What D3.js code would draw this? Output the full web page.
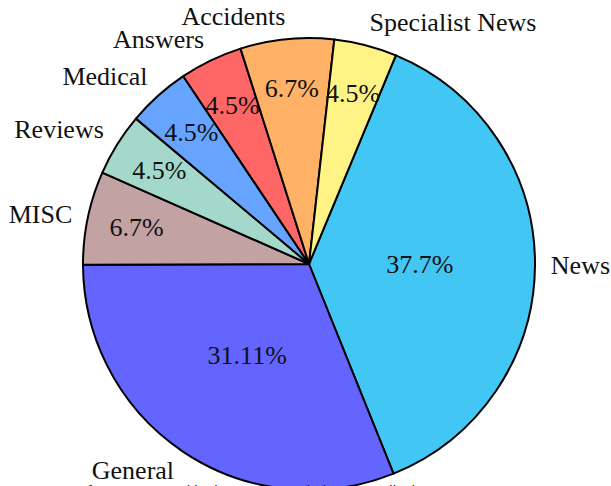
<!DOCTYPE html>
<html>
<head>
<meta charset="utf-8">
<script src="https://cdn.jsdelivr.net/npm/d3@7"></script>
<style>
  body { margin: 0; background: #fff; }
  svg { display: block; }
</style>
</head>
<body>
<div id="chart"></div>
<script>
// categories and shares (percent), in drawing order, clockwise
var categories = ["News", "General", "MISC", "Reviews", "Medical", "Answers", "Accidents", "Specialist News"];
var shares = [37.7, 31.11, 6.7, 4.5, 4.5, 4.5, 6.7, 4.5];
var pctLabels = ["37.7%", "31.11%", "6.7%", "4.5%", "4.5%", "4.5%", "6.7%", "4.5%"];
var colors = ["#42c6f3", "#6464ff", "#c2a2a2", "#a3d8ca", "#66a4ff", "#ff6666", "#ffb266", "#fff385"];
var caption = "Types of Sources Used in the Corpus Relating to Medical Events";

var width = 611,
    height = 486;

var cx = 309,
    cy = 264,
    r = 226;

var svg = d3.select("#chart")
  .append("svg")
  .attr("width", width)
  .attr("height", height);

var rows = categories.map(function(c, i){
  return {name: c, value: shares[i], pct: pctLabels[i], color: colors[i]};
});

//pie starts a little right of north and runs clockwise
var start = 22.6 * Math.PI / 180;
var pie = d3.pie()
  .sort(null)
  .value(function(d){ return d.value; })
  .startAngle(start)
  .endAngle(start + 2 * Math.PI);

var arc = d3.arc().innerRadius(0).outerRadius(r);

var g = svg.append("g").attr("transform", "translate(" + cx + "," + cy + ")");
var arcs = pie(rows);

g.selectAll("path.slice")
  .data(arcs)
  .enter().append("path")
  .attr("class", "slice")
  .attr("d", arc)
  .attr("fill", function(d){ return d.data.color; })
  .attr("stroke", "#000")
  .attr("stroke-width", 2)
  .attr("stroke-linejoin", "round");

function pos(d, k){
  var a = (d.startAngle + d.endAngle) / 2;
  return [Math.sin(a) * r * k, -Math.cos(a) * r * k];
}

//percent labels: big slices nearer the middle
g.selectAll("text.pct")
  .data(arcs)
  .enter().append("text")
  .attr("class", "pct")
  .attr("x", function(d){ return pos(d, d.data.value > 20 ? 0.49 : 0.78)[0]; })
  .attr("y", function(d){ return pos(d, d.data.value > 20 ? 0.49 : 0.78)[1]; })
  .attr("text-anchor", "middle")
  .attr("dominant-baseline", "central")
  .style("font-family", "'Liberation Serif', 'Times New Roman', serif")
  .style("font-size", "26px")
  .attr("fill", "#111")
  .text(function(d){ return d.data.pct; });

//category names outside
g.selectAll("text.name")
  .data(arcs)
  .enter().append("text")
  .attr("class", "name")
  .attr("x", function(d){ return pos(d, 1.07)[0]; })
  .attr("y", function(d){
    var p = pos(d, 1.07);
    // labels near top / bottom pushed a bit further out
    if (p[1] > 50) return p[1] + 6;
    if (p[1] < -50) return p[1] - 7;
    return p[1];
  })
  .attr("text-anchor", function(d){ return pos(d, 1)[0] >= 0 ? "start" : "end"; })
  .attr("dominant-baseline", "central")
  .style("font-family", "'Liberation Serif', 'Times New Roman', serif")
  .style("font-size", "26px")
  .attr("fill", "#111")
  .text(function(d){ return d.data.name; });

//caption, mostly below the bottom edge
svg.append("text")
  .attr("x", 35)
  .attr("y", 496)
  .style("font-family", "'Liberation Sans', Arial, sans-serif")
  .style("font-size", "15px")
  .attr("fill", "#111")
  .text(caption);
</script>
</body>
</html>
